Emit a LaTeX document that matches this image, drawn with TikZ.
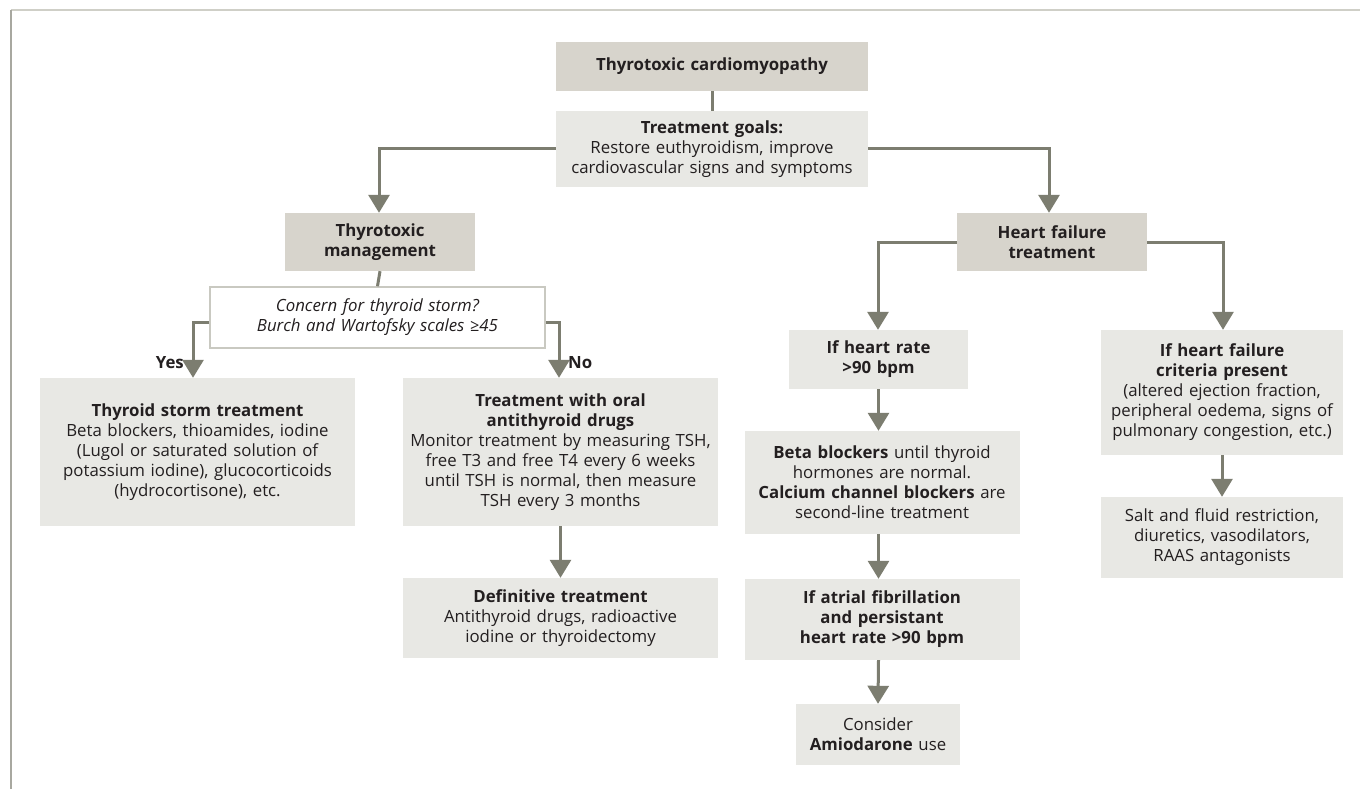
\documentclass[tikz,border=0pt]{standalone}
\usepackage{fontspec}
\setmainfont{Open Sans}
\usetikzlibrary{arrows.meta}
\definecolor{darkfill}{HTML}{D7D4CC}
\definecolor{lightfill}{HTML}{E8E8E4}
\definecolor{conn}{HTML}{7C7D70}
\definecolor{txt}{HTML}{231F20}
\definecolor{frametop}{HTML}{CFCFC7}
\definecolor{frameleft}{HTML}{A8A8A0}
\definecolor{qborder}{HTML}{C9C9C1}
\tikzset{
  basebox/.style={inner sep=0pt, align=center, text=txt, font=\fontsize{16.8}{20}\selectfont},
  darkbox/.style={basebox, fill=darkfill},
  lightbox/.style={basebox, fill=lightfill},
  qbox/.style={basebox, fill=white, draw=qborder, line width=1.5pt},
  link/.style={draw=conn, line width=3pt},
  arr/.style={link, -{Triangle[width=21pt,length=18pt]}},
  lbl/.style={inner sep=0pt, text=txt, font=\fontsize{16.8}{20}\selectfont\bfseries}
}
\begin{document}
\begin{tikzpicture}[x=1pt,y=-1pt]
\useasboundingbox (0,0) rectangle (1360,789);
\fill[white] (0,0) rectangle (1360,789);
\draw[frametop, line width=2pt] (11,10) -- (1360,10);
\draw[frameleft, line width=1.5pt] (11,10) -- (11,789);

% nodes
\node[darkbox, minimum width=312pt, minimum height=49pt, text width=306pt] (title) at (712,66.5) {\textbf{Thyrotoxic cardiomyopathy}};
\node[lightbox, minimum width=312pt, minimum height=76pt, text width=310pt] (goals) at (712,149) {\textbf{Treatment goals:}\\Restore euthyroidism, improve\\cardiovascular signs and symptoms};
\node[darkbox, minimum width=190pt, minimum height=58pt, text width=184pt] (tm) at (380,242) {\textbf{Thyrotoxic}\\\textbf{management}};
\node[qbox, minimum width=335pt, minimum height=61pt, text width=328pt] (concern) at (377.5,317.5) {\itshape Concern for thyroid storm?\\\itshape Burch and Wartofsky scales ≥45};
\node[lightbox, minimum width=315pt, minimum height=148pt, text width=311pt] (storm) at (197.5,452) {\textbf{Thyroid storm treatment}\\Beta blockers, thioamides, iodine\\(Lugol or saturated solution of\\potassium iodine), glucocorticoids\\(hydrocortisone), etc.};
\node[lightbox, minimum width=315pt, minimum height=148pt, text width=311pt] (oral) at (560.5,452) {\textbf{Treatment with oral}\\\textbf{antithyroid drugs}\\Monitor treatment by measuring TSH,\\free T3 and free T4 every 6 weeks\\until TSH is normal, then measure\\TSH every 3 months};
\node[lightbox, minimum width=315pt, minimum height=80pt, text width=311pt] (definitive) at (560.5,618) {\textbf{Definitive treatment}\\Antithyroid drugs, radioactive\\iodine or thyroidectomy};
\node[darkbox, minimum width=190pt, minimum height=58pt, text width=184pt] (hf) at (1052,242) {\textbf{Heart failure}\\\textbf{treatment}};
\node[lightbox, minimum width=179pt, minimum height=59pt, text width=175pt] (hr) at (878.5,359.5) {\textbf{If heart rate}\\\textbf{>90 bpm}};
\node[lightbox, minimum width=275pt, minimum height=103pt, text width=271pt] (beta) at (882,482.5) {\textbf{Beta blockers} until thyroid\\hormones are normal.\\\textbf{Calcium channel blockers} are\\second-line treatment};
\node[lightbox, minimum width=275pt, minimum height=81pt, text width=271pt] (af) at (882,619.5) {\textbf{If atrial fibrillation}\\\textbf{and persistant}\\\textbf{heart rate >90 bpm}};
\node[lightbox, minimum width=164pt, minimum height=61pt, text width=160pt] (consider) at (878,734.5) {Consider\\\textbf{Amiodarone} use};
\node[lightbox, minimum width=242pt, minimum height=125pt, text width=240pt] (criteria) at (1222,392.5) {\textbf{If heart failure}\\\textbf{criteria present}\\(altered ejection fraction,\\peripheral oedema, signs of\\pulmonary congestion, etc.)};
\node[lightbox, minimum width=242pt, minimum height=81pt, text width=240pt] (salt) at (1222,537.5) {Salt and fluid restriction,\\diuretics, vasodilators,\\RAAS antagonists};

% connectors
\coordinate (gl) at (379,149);
\coordinate (gr) at (1049,149);
\coordinate (yl) at (193,322);
\coordinate (nr) at (559,322);
\coordinate (hl) at (878,242.5);
\coordinate (hrr) at (1223,242.5);

\draw[link] (title.south) -- (goals.north);
\draw[arr] (goals.west |- gl) -- (gl) -- (gl |- tm.north);
\draw[arr] (goals.east |- gr) -- (gr) -- (gr |- hf.north);
\draw[link] (tm.south) -- (concern.north);
\draw[arr] (concern.west |- yl) -- (yl) -- (yl |- storm.north);
\draw[arr] (concern.east |- nr) -- (nr) -- (nr |- oral.north);
\draw[arr] (oral.south) -- (definitive.north);
\draw[arr] (hf.west |- hl) -- (hl) -- (hl |- hr.north);
\draw[arr] (hf.east |- hrr) -- (hrr) -- (hrr |- criteria.north);
\draw[arr] (hr.south) -- (hr.south |- beta.north);
\draw[arr] (hr.south |- beta.south) -- (hr.south |- af.north);
\draw[arr] (hr.south |- af.south) -- (consider.north);
\draw[arr] (criteria.south) -- (salt.north);

\node[lbl, anchor=east] (yes) at (184,363) {Yes};
\node[lbl, anchor=west] (no) at (568,363) {No};
\end{tikzpicture}
\end{document}
